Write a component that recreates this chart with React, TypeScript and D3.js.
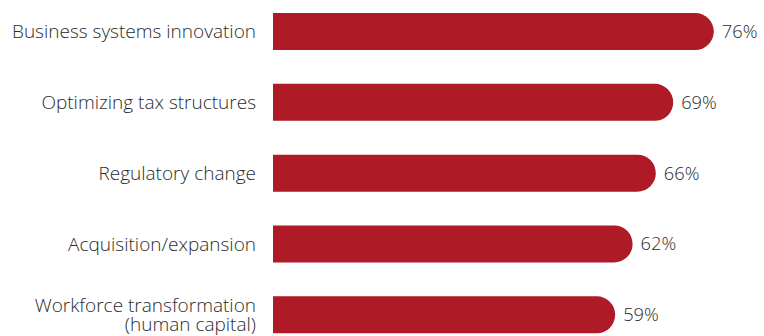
import React from "react";
import * as d3 from "d3";

const categories: string[][] = [
  ["Business systems innovation"],
  ["Optimizing tax structures"],
  ["Regulatory change"],
  ["Acquisition/expansion"],
  ["Workforce transformation", "(human capital)"],
];
const values: number[] = [76, 69, 66, 62, 59];
const valueLabels: string[] = ["76%", "69%", "66%", "62%", "59%"];

const W = 764;
const H = 336;
const BAR_COLOR = "#ae1a25";
const TEXT_COLOR = "#2b2b2b";
const FONT = "'Open Sans', 'Noto Sans', sans-serif";

export default function App() {
  const keys = categories.map((c) => c.join(" "));
  const x = d3.scaleLinear().domain([0, 100]).range([273, 853]);
  const y = d3
    .scaleBand<string>()
    .domain(keys)
    .range([13, 333.3])
    .paddingInner(0.477)
    .paddingOuter(0);
  const bw = y.bandwidth();

  const barPath = (v: number, y0: number) => {
    const x0 = x(0);
    const x1 = x(v);
    const r = bw / 2;
    const p = d3.path();
    p.moveTo(x0, y0);
    p.lineTo(x1 - r, y0);
    p.arc(x1 - r, y0 + r, r, -Math.PI / 2, Math.PI / 2);
    p.lineTo(x0, y0 + bw);
    p.closePath();
    return p.toString();
  };

  return (
    <svg
      width={W}
      height={H}
      style={{ position: "absolute", left: 0, top: 0, display: "block" }}
    >
      <rect width={W} height={H} fill="#ffffff" />
      {keys.map((k, i) => {
        const y0 = y(k)!;
        const cy = y0 + bw / 2;
        const lines = categories[i];
        const lh = 19.5;
        return (
          <g key={k}>
            <path d={barPath(values[i], y0)} fill={BAR_COLOR} />
            <text
              x={256}
              textAnchor="end"
              fontFamily={FONT}
              fontSize={19}
              fontWeight={300}
              fill={TEXT_COLOR}
            >
              {lines.map((ln, j) => (
                <tspan
                  key={j}
                  x={256}
                  y={cy + (j - (lines.length - 1) / 2) * lh}
                  dy="0.35em"
                >
                  {ln}
                </tspan>
              ))}
            </text>
            <text
              x={x(values[i]) + 8}
              y={cy}
              dy="0.35em"
              fontFamily={FONT}
              fontSize={18.3}
              fontWeight={300}
              fill={TEXT_COLOR}
            >
              {valueLabels[i]}
            </text>
          </g>
        );
      })}
    </svg>
  );
}
